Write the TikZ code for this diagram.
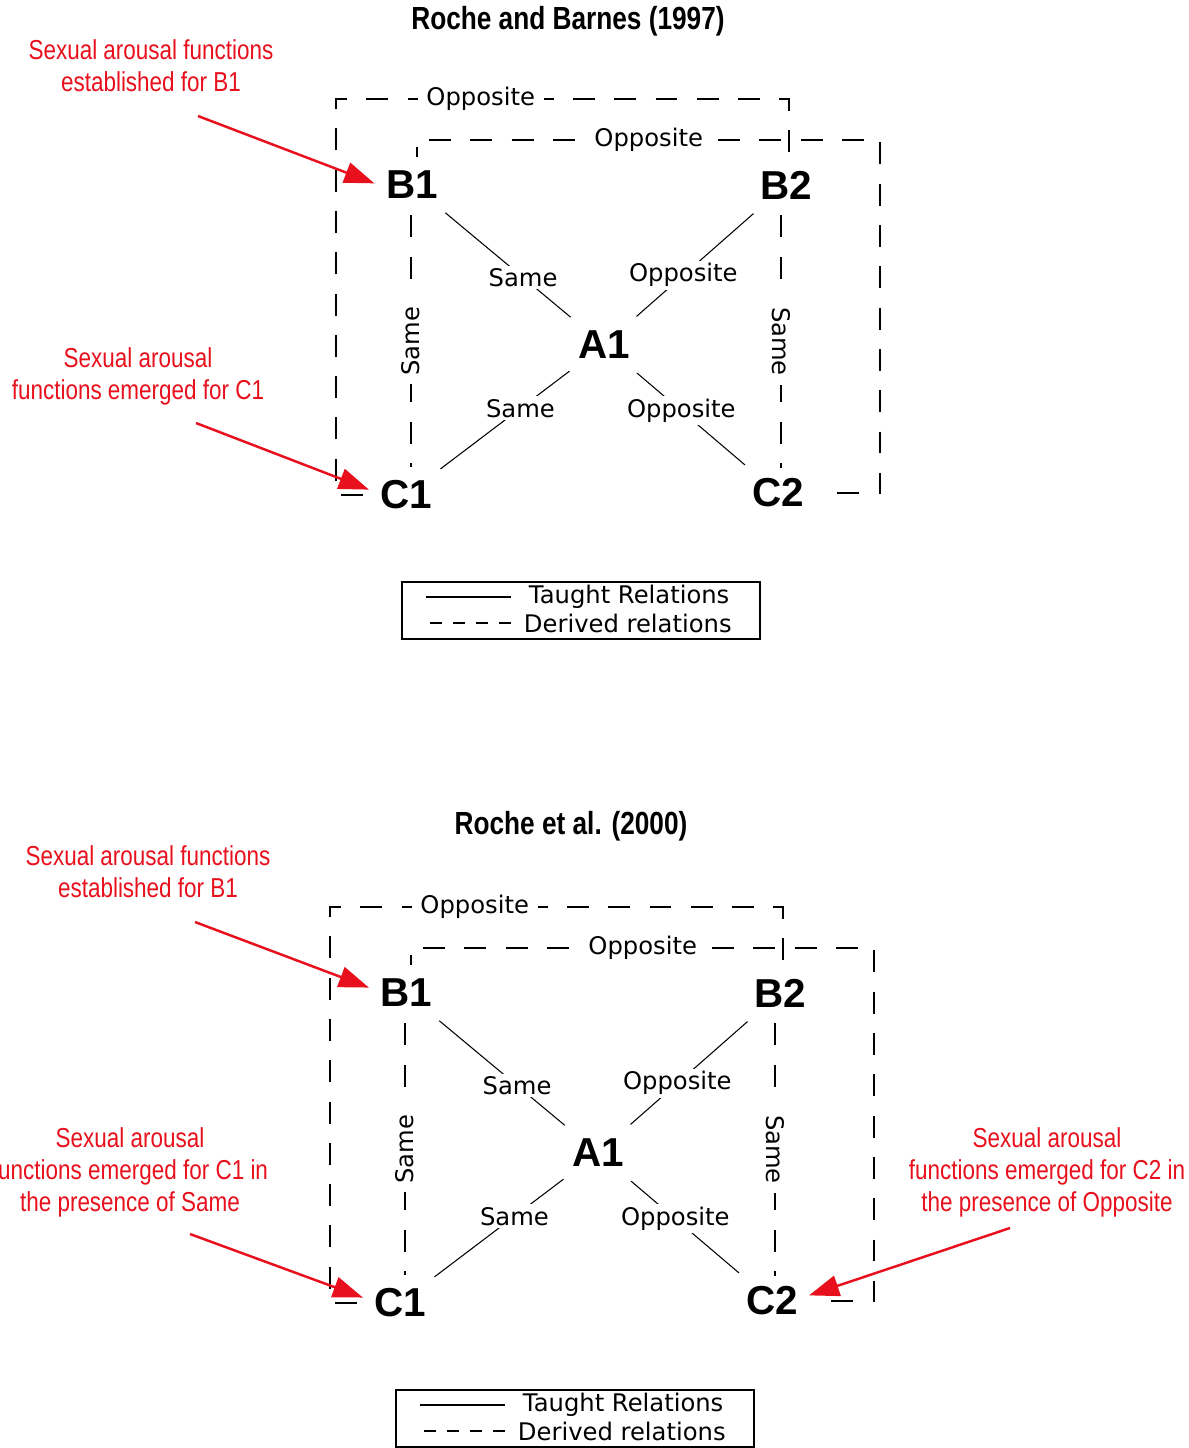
\documentclass[tikz,border=0pt]{standalone}
\usepackage{fontspec}
\setmainfont{Liberation Sans}
\newfontfamily\narrowfont[FakeStretch=0.82]{Liberation Sans}
\newfontfamily\labelfont{DejaVu Sans}
\usetikzlibrary{arrows.meta}
\definecolor{annot}{RGB}{232,16,28}

\begin{document}
\begin{tikzpicture}[
        x=0.02cm, y=-0.02cm,
        letter/.style={circle, minimum size=1.72cm, inner sep=0pt, font=\fontsize{23}{26}\selectfont\bfseries},
        lbl/.style={fill=white, inner sep=1.5pt, font=\labelfont\fontsize{13.8}{16}\selectfont},
        dlbl/.style={lbl, inner xsep=5pt},
        title/.style={font=\narrowfont\bfseries\fontsize{18.2}{21}\selectfont},
        note/.style={align=center, text=annot, font=\narrowfont\fontsize{15.6}{18.2}\selectfont},
        taught/.style={line width=0.6pt},
        derived/.style={line width=1.15pt, dash pattern=on 12.5pt off 11pt},
        keybox/.style={draw, line width=1.2pt, minimum width=7.16cm, minimum height=1.14cm},
        keydash/.style={line width=0.8pt, dash pattern=on 7pt off 6pt},
        pointer/.style={annot, line width=1.4pt, shorten >=-3.4pt, -{Triangle[length=0.6cm, width=0.42cm]}}
    ]
    \useasboundingbox (0,0) rectangle (1189,1448);

    % Roche and Barnes (1997)
    \node[title] (head1) at (568,21) {Roche and Barnes (1997)};

    % Nodes
    \node[letter] (B1) at (412,185) {B1};
    \node[letter] (B2) at (786,185) {B2};
    \node[letter] (A1) at (604,345) {A1};
    \node[letter] (C1) at (406,495) {C1};
    \node[letter] (C2) at (778,493) {C2};

    % Taught relations
    \draw[taught] (B1) -- node[lbl, pos=0.62] {Same} (A1);
    \draw[taught] (B2) -- node[lbl, pos=0.6] {Opposite} (A1);
    \draw[taught] (A1) -- node[lbl, pos=0.38] {Same} (C1);
    \draw[taught] (A1) -- node[lbl, pos=0.41] {Opposite} (C2);

    % Derived relations
    \draw[derived] ([shift={(-1,-13)}]B1.south) -- node[dlbl, rotate=90] {Same} ([shift={(5,15)}]C1.north);
    \draw[derived] ([shift={(-5,-13)}]B2.south) -- node[dlbl, rotate=-90] {Same} ([shift={(3,18)}]C2.north);
    \draw[derived] (C1.west) -- ++(-27,0) |- node[dlbl, pos=0.66] {Opposite} ([shift={(3,-43)}]B2.north) -- ([shift={(3,20)}]B2.north);
    \draw[derived, dash phase=7pt] ([shift={(5,15)}]B1.north) -- ([shift={(5,-2)}]B1.north) -| node[dlbl, pos=0.25] {Opposite} ([shift={(59,0)}]C2.east) -- (C2.east);

    % Key
    \node[keybox] (key1) at (581,610.5) {};
    \node[lbl, fill=none, anchor=west] (taught1) at (526,597) {Taught Relations};
    \node[lbl, fill=none, anchor=west] (derived1) at (521,623) {Derived relations};
    \draw[taught, line width=1pt] ([xshift=-0.3cm]taught1.west) -- ++(-85,0);
    \draw[keydash] ([xshift=-0.2cm]derived1.west) -- ++(-85,0);

    % Functions
    \node[note] (note1) at (151,66) {Sexual arousal functions\\established for B1};
    \node[note] (note2) at (138,376) {Sexual arousal\\functions emerged for C1};
    \coordinate (tail1) at (198,116);
    \coordinate (tail2) at (196,423);
    \draw[pointer] (tail1) -- (B1.175);
    \draw[pointer] (tail2) -- (C1.170);

    % Roche et al. (2000)
    \node[title] (head2) at (571,826) {Roche et al. (2000)};

    % Nodes
    \node[letter] (B1b) at (406,993) {B1};
    \node[letter] (B2b) at (780,993) {B2};
    \node[letter] (A1b) at (598,1153) {A1};
    \node[letter] (C1b) at (400,1303) {C1};
    \node[letter] (C2b) at (772,1301) {C2};

    % Taught relations
    \draw[taught] (B1b) -- node[lbl, pos=0.62] {Same} (A1b);
    \draw[taught] (B2b) -- node[lbl, pos=0.6] {Opposite} (A1b);
    \draw[taught] (A1b) -- node[lbl, pos=0.38] {Same} (C1b);
    \draw[taught] (A1b) -- node[lbl, pos=0.41] {Opposite} (C2b);

    % Derived relations
    \draw[derived] ([shift={(-1,-13)}]B1b.south) -- node[dlbl, rotate=90] {Same} ([shift={(5,15)}]C1b.north);
    \draw[derived] ([shift={(-5,-13)}]B2b.south) -- node[dlbl, rotate=-90] {Same} ([shift={(3,18)}]C2b.north);
    \draw[derived] (C1b.west) -- ++(-27,0) |- node[dlbl, pos=0.66] {Opposite} ([shift={(3,-43)}]B2b.north) -- ([shift={(3,20)}]B2b.north);
    \draw[derived, dash phase=7pt] ([shift={(5,15)}]B1b.north) -- ([shift={(5,-2)}]B1b.north) -| node[dlbl, pos=0.25] {Opposite} ([shift={(59,0)}]C2b.east) -- (C2b.east);

    % Key
    \node[keybox] (key2) at (575,1418.5) {};
    \node[lbl, fill=none, anchor=west] (taught2) at (520,1405) {Taught Relations};
    \node[lbl, fill=none, anchor=west] (derived2) at (515,1431) {Derived relations};
    \draw[taught, line width=1pt] ([xshift=-0.3cm]taught2.west) -- ++(-85,0);
    \draw[keydash] ([xshift=-0.2cm]derived2.west) -- ++(-85,0);

    % Functions
    \node[note] (note3) at (148,872) {Sexual arousal functions\\established for B1};
    \node[note] (note4) at (130,1172) {Sexual arousal\\functions emerged for C1 in\\the presence of Same};
    \node[note] (note5) at (1047,1172) {Sexual arousal\\functions emerged for C2 in\\the presence of Opposite};
    \coordinate (tail3) at (195,922);
    \coordinate (tail4) at (190,1234);
    \coordinate (tail5) at (1010,1228);
    \draw[pointer] (tail3) -- (B1b.170);
    \draw[pointer] (tail4) -- (C1b.170);
    \draw[pointer] (tail5) -- (C2b.10);
\end{tikzpicture}
\end{document}
